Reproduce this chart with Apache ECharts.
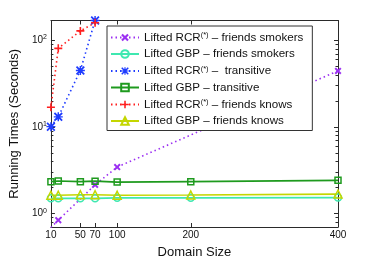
<!DOCTYPE html>
<html><head><meta charset="utf-8">
<script src="https://cdn.jsdelivr.net/npm/echarts@6/dist/echarts.min.js"></script>
<style>html,body{margin:0;padding:0;background:#fff}#c{width:373px;height:264px}</style>
</head><body><div id="c"></div>
<script>
const domainSizes = [10, 20, 50, 70, 100, 200, 400];
const xTicks = [10, 50, 70, 100, 200, 400];
const yMajorTicks = [1, 10, 100];
const yMinorTicks = [0.7, 0.8, 0.9, 2, 3, 4, 5, 6, 7, 8, 9, 20, 30, 40, 50, 60, 70, 80, 90];

const rcrSmokersX = [10, 20, 70, 100, 400];
const rcrSmokers = [0.69, 0.84, 2.15, 3.45, 44.5];
const gbpSmokers = [1.5, 1.5, 1.5, 1.5, 1.52, 1.52, 1.53];
const rcrTransX = [10, 20, 50, 70];
const rcrTrans = [10.1, 13.1, 45, 170];
const gbpTrans = [2.34, 2.38, 2.34, 2.37, 2.31, 2.34, 2.42];
const rcrKnowsX = [10, 20, 50, 70];
const rcrKnows = [16.9, 81, 129, 160];
const gbpKnows = [1.63, 1.63, 1.65, 1.65, 1.63, 1.64, 1.68];

const seriesNames = [
  'Lifted RCR{s|(*)} \u2013 friends smokers',
  'Lifted GBP \u2013 friends smokers',
  'Lifted RCR{s|(*)} \u2013  transitive',
  'Lifted GBP \u2013 transitive',
  'Lifted RCR{s|(*)} \u2013 friends knows',
  'Lifted GBP \u2013 friends knows'
];

const X_PATH = 'path://M2,0L5,3L8,0L10,2L7,5L10,8L8,10L5,7L2,10L0,8L3,5L0,2Z';
const PLUS_PATH = 'path://M4,0H6V4H10V6H6V10H4V6H0V4H4Z';
const STAR_PATH = 'path://M4.2,0H5.8V4.2H10V5.8H5.8V10H4.2V5.8H0V4.2H4.2Z M1.4,0L5,3.6L8.6,0L10,1.4L6.4,5L10,8.6L8.6,10L5,6.4L1.4,10L0,8.6L3.6,5L0,1.4Z';

function pairs(xs, ys) { return xs.map((x, i) => [x, ys[i]]); }

const FONT = 'Liberation Sans, Arial, Helvetica, sans-serif';
const AX = '#2a2a2a';
const yMin = 0.7, yMax = 170;

function mkSeries(name, data, color, symbol, size, dotted, hollow) {
  return {
    name, type: 'line', data, xAxisIndex: 0, yAxisIndex: 0,
    symbol, symbolSize: size, showSymbol: true,
    lineStyle: { color, width: 1.6, type: dotted ? [1.5, 3] : 'solid' },
    itemStyle: hollow ? { color: 'rgba(255,255,255,0)', borderColor: color, borderWidth: 1.5 } : { color, borderWidth: 0 },
    emphasis: { disabled: true },
    animation: false
  };
}

const chart = echarts.init(document.getElementById('c'), null, { renderer: 'canvas' });
const yBase = { type: 'log', logBase: 10, min: yMin, max: yMax, splitLine: { show: false } };
chart.setOption({
  backgroundColor: '#fff',
  animation: false,
  textStyle: { fontFamily: FONT },
  grid: { left: 49, right: 35, top: 20.5, bottom: 30 },
  legend: {
    orient: 'vertical', left: 107, top: 26,
    padding: [5, 9, 3.5, 3], itemGap: 4.5, itemWidth: 28, itemHeight: 9.5,
    backgroundColor: '#fff', borderColor: '#333', borderWidth: 1, borderRadius: 0,
    selectedMode: false,
    textStyle: { fontFamily: FONT, fontSize: 11.6, color: '#111',
      rich: { s: { fontSize: 7.5, verticalAlign: 'top', padding: [0, 0, 5, 0], fontFamily: FONT, color: '#111' } } },
    data: seriesNames
  },
  xAxis: [
    { type: 'value', min: 10, max: 400, position: 'bottom',
      name: 'Domain Size', nameLocation: 'middle', nameGap: 19,
      nameTextStyle: { fontSize: 13, color: '#111', fontFamily: FONT },
      axisLine: { show: true, onZero: false, lineStyle: { color: AX, width: 1 } },
      axisTick: { show: true, inside: true, length: 4, customValues: xTicks, lineStyle: { color: AX } },
      axisLabel: { show: true, customValues: xTicks, fontSize: 10, color: '#111', margin: 3, fontFamily: FONT },
      splitLine: { show: false } },
    { type: 'value', min: 10, max: 400, position: 'top',
      axisLine: { show: true, onZero: false, lineStyle: { color: AX, width: 1 } },
      axisTick: { show: true, inside: true, length: 4, customValues: xTicks, lineStyle: { color: AX } },
      axisLabel: { show: false }, splitLine: { show: false } }
  ],
  yAxis: [
    Object.assign({}, yBase, { position: 'left',
      name: 'Running Times (Seconds)', nameLocation: 'middle', nameGap: 28,
      nameTextStyle: { fontSize: 13, color: '#111', fontFamily: FONT },
      axisLine: { show: true, onZero: false, lineStyle: { color: AX, width: 1 } },
      axisTick: { show: true, inside: true, length: 4, customValues: yMajorTicks, lineStyle: { color: AX } },
      axisLabel: { show: true, customValues: yMajorTicks, margin: 4, color: '#111',
        formatter: v => '{b|10}{s|' + Math.round(Math.log10(v)) + '}',
        rich: { b: { fontSize: 10, fontFamily: FONT, color: '#111' },
                s: { fontSize: 7, fontFamily: FONT, color: '#111', verticalAlign: 'top', padding: [0, 0, 6, 0] } } } }),
    Object.assign({}, yBase, { position: 'right',
      axisLine: { show: true, onZero: false, lineStyle: { color: AX, width: 1 } },
      axisTick: { show: true, inside: true, length: 4, customValues: yMajorTicks, lineStyle: { color: AX } },
      axisLabel: { show: false } }),
    Object.assign({}, yBase, { position: 'left',
      axisLine: { show: false },
      axisTick: { show: true, inside: true, length: 2.5, customValues: yMinorTicks, lineStyle: { color: AX } },
      axisLabel: { show: false } }),
    Object.assign({}, yBase, { position: 'right',
      axisLine: { show: false },
      axisTick: { show: true, inside: true, length: 2.5, customValues: yMinorTicks, lineStyle: { color: AX } },
      axisLabel: { show: false } })
  ],
  series: [
    mkSeries(seriesNames[0], pairs(rcrSmokersX, rcrSmokers), '#9b2ff2', X_PATH, 7, true, false),
    mkSeries(seriesNames[1], pairs(domainSizes, gbpSmokers), '#3ee8b0', 'circle', 7, false, true),
    mkSeries(seriesNames[2], pairs(rcrTransX, rcrTrans), '#1f3cff', STAR_PATH, 9, true, false),
    mkSeries(seriesNames[3], pairs(domainSizes, gbpTrans), '#1e9a1e', 'rect', 6, false, true),
    mkSeries(seriesNames[4], pairs(rcrKnowsX, rcrKnows), '#ff1f1f', PLUS_PATH, 8, true, false),
    mkSeries(seriesNames[5], pairs(domainSizes, gbpKnows), '#c4d600', 'triangle', 8, false, true)
  ]
});
</script></body></html>
